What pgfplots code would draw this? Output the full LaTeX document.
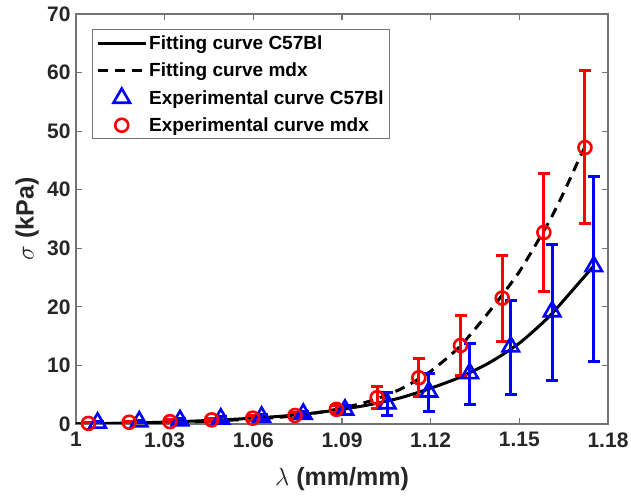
\documentclass[border=0pt]{standalone}
\usepackage{pgfplots}
\pgfplotsset{compat=1.18}
\usepackage{pgfplotstable}
\usepackage{fontspec}
\setmainfont{Liberation Sans}

\pgfplotsset{
  lineleg/.style={legend image code/.code={\draw[##1] (0pt,0pt) -- (48pt,0pt);}},
  markleg/.style={legend image code/.code={%
    \draw[##1, mark repeat=2, mark phase=2] plot coordinates {(0pt,0pt) (24pt,0pt) (48pt,0pt)};}},
}

% fitting curves
\pgfplotstableread{
x y
1.000 0
1.010 0.08
1.020 0.18
1.030 0.32
1.040 0.50
1.050 0.72
1.060 1.00
1.070 1.35
1.080 1.85
1.090 2.50
1.100 3.35
1.110 4.50
1.120 6.10
1.130 8.00
1.140 10.5
1.150 13.8
1.160 18.3
1.170 24.0
1.1752 27.0
}\fitwt

\pgfplotstableread{
x y
1.000 0
1.020 0.15
1.040 0.40
1.060 0.85
1.070 1.20
1.080 1.80
1.090 2.70
1.100 4.00
1.110 6.00
1.120 9.00
1.130 13.3
1.140 19.3
1.150 26.0
1.160 34.5
1.165 39.5
1.170 45.0
1.1722 47.3
}\fitmdx

% experimental means with error bars (ep = up, em = down)
\pgfplotstableread{
x y ep em
1.0073 0.2 0.2 0.2
1.0214 0.4 0.2 0.2
1.0352 0.6 0.3 0.3
1.0490 0.9 0.3 0.3
1.0628 1.2 0.4 0.4
1.0769 1.7 0.5 0.5
1.0910 2.4 0.7 0.7
1.1053 3.5 1.85 2.1
1.1194 5.5 3.15 3.4
1.1332 8.65 5.01 5.24
1.1471 13.2 7.8 8.13
1.1611 19.2 11.5 11.8
1.1752 26.9 15.4 16.15
}\expwt

\pgfplotstableread{
x y ep em
1.0042 0.1 0.2 0.2
1.0180 0.3 0.2 0.2
1.0318 0.4 0.3 0.3
1.0459 0.7 0.3 0.3
1.0598 1.0 0.4 0.4
1.0741 1.45 0.5 0.5
1.0881 2.5 0.6 0.6
1.1019 4.5 1.9 1.8
1.1160 7.9 3.3 3.2
1.1301 13.4 5.1 5.15
1.1442 21.5 7.35 7.45
1.1583 32.7 10.1 10.1
1.1722 47.2 13.1 13.05
}\expmdx

\begin{document}
\begin{tikzpicture}
\begin{axis}[
  name=ax,
  scale only axis,
  width=532pt, height=410pt,
  xmin=1, xmax=1.18, ymin=0, ymax=70,
  xtick={1,1.03,1.06,1.09,1.12,1.15,1.18},
  xticklabels={1,1.03,1.06,1.09,1.12,1.15,1.18},
  ytick={0,10,...,70},
  tick align=inside,
  major tick length=6pt,
  axis line style={black!55, line width=1.1pt},
  every tick/.style={black!55, line width=1.1pt},
  tick label style={font=\bfseries\fontsize{21}{23}\selectfont, text=black!85},
  xticklabel style={yshift=-5pt},
  yticklabel style={xshift=-2pt},
  /pgf/number format/assume math mode=true,
  xlabel={$\lambda$ \textbf{(mm/mm)}},
  ylabel={$\sigma$ \textbf{(kPa)}},
  label style={font=\fontsize{25}{27}\selectfont, text=black!85},
  xlabel style={at={(axis description cs:0.5,-0.135)}, anchor=center},
  ylabel style={at={(axis description cs:-0.092,0.5)}, anchor=center},
  legend cell align=left,
  legend style={at={(0.0295,0.9627)}, anchor=north west,
    font=\bfseries\fontsize{19}{21}\selectfont,
    draw=black!55, line width=1.1pt, inner xsep=4pt, inner ysep=4pt,
    row sep=8pt, nodes={inner sep=2pt}},
]
\addplot[black, line width=3pt, mark=none, smooth, tension=0.4, lineleg]
  table[x=x, y=y] {\fitwt};
\addlegendentry{Fitting curve C57Bl}

\addplot[black, line width=3pt, mark=none, smooth, tension=0.4,
  dash pattern=on 10pt off 7pt, lineleg]
  table[x=x, y=y] {\fitmdx};
\addlegendentry{Fitting curve mdx}

\addplot[blue, only marks, mark=triangle, mark size=9.5pt,
  mark options={line width=2.6pt}, markleg,
  error bars/.cd, y dir=both, y explicit,
  error bar style={line width=3pt},
  error mark options={rotate=90, mark size=6pt, line width=3pt},
  ]
  table[x=x, y=y, y error plus=ep, y error minus=em] {\expwt};
\addlegendentry{Experimental curve C57Bl}

\addplot[red, only marks, mark=o, mark size=6.5pt,
  mark options={line width=2.6pt}, markleg,
  error bars/.cd, y dir=both, y explicit,
  error bar style={line width=3pt},
  error mark options={rotate=90, mark size=6pt, line width=3pt},
  ]
  table[x=x, y=y, y error plus=ep, y error minus=em] {\expmdx};
\addlegendentry{Experimental curve mdx}
\end{axis}
\pgfresetboundingbox
\path ([xshift=-76pt,yshift=-72pt]ax.south west) rectangle ([xshift=23pt,yshift=14pt]ax.north east);
\end{tikzpicture}
\end{document}
